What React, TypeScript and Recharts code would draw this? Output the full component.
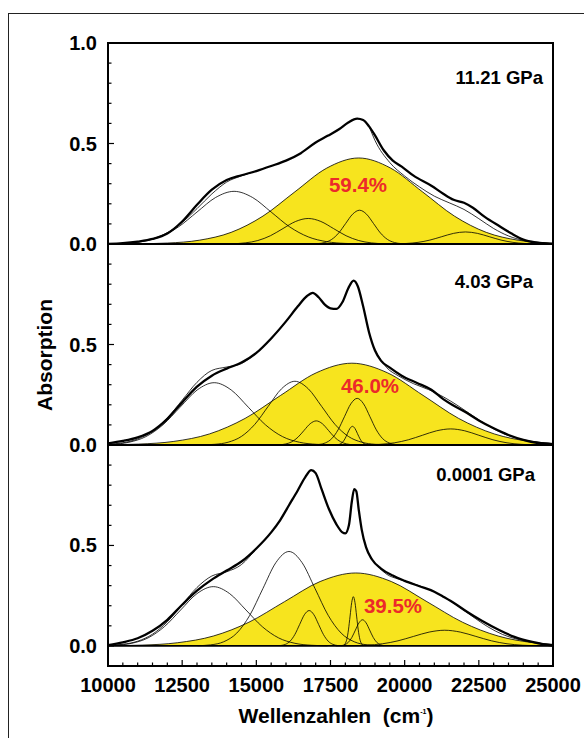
import { ComposedChart, Line, Area, XAxis, YAxis, ReferenceLine } from 'recharts';

const FONT = "'Liberation Sans', Arial, Helvetica, sans-serif";
const YELLOW = '#F7E41E';
const RED = '#EC2A2A';

// x axis (wavenumber, cm-1)
const X_TICKS = [
  10000, 10500, 11000, 11500, 12000, 12500, 13000, 13500, 14000, 14500, 15000,
  15500, 16000, 16500, 17000, 17500, 18000, 18500, 19000, 19500, 20000, 20500,
  21000, 21500, 22000, 22500, 23000, 23500, 24000, 24500, 25000,
];
const X_LABELS = [10000, 12500, 15000, 17500, 20000, 22500, 25000];
const Y_TICKS_TOP = [0, 0.1, 0.2, 0.3, 0.4, 0.5, 0.6, 0.7, 0.8, 0.9, 1.0];
const Y_TICKS = [0, 0.1, 0.2, 0.3, 0.4, 0.5, 0.6, 0.7, 0.8, 0.9];
const Y_LABELS_TOP = [0, 0.5, 1.0];
const Y_LABELS = [0, 0.5];

// ---- 11.21 GPa ----
const mainA = [
  [10000, 0.0], [10500, 0.004], [11000, 0.012], [11500, 0.025], [12000, 0.052], [12500, 0.112],
  [13000, 0.195], [13500, 0.27], [14000, 0.318], [14500, 0.342], [15000, 0.363], [15500, 0.388],
  [16000, 0.415], [16500, 0.452], [17000, 0.505], [17400, 0.538], [17800, 0.572], [18100, 0.605],
  [18400, 0.624], [18600, 0.617], [18800, 0.585], [19000, 0.54], [19300, 0.465], [19600, 0.415],
  [19900, 0.385], [20300, 0.34], [20900, 0.29], [21300, 0.25], [21650, 0.22], [22000, 0.205],
  [22300, 0.18], [22700, 0.135], [23200, 0.088], [23600, 0.052], [24000, 0.022], [24400, 0.008],
  [24800, 0.002], [25000, 0.0],
];
// thin fit curve, visible beside the data on the flanks
const fitA = [
  [10000, 0.001], [10500, 0.0034], [11000, 0.01], [11500, 0.0256], [12000, 0.0567], [12500, 0.1076],
  [13000, 0.176], [13500, 0.249], [14000, 0.308], [14500, 0.339], [15000, 0.363],
];
const fitA2 = [
  [18800, 0.585], [19000, 0.515], [19500, 0.405], [20000, 0.338], [20500, 0.284], [21000, 0.238],
  [21500, 0.205], [22000, 0.172], [22500, 0.126], [23000, 0.077], [23500, 0.04], [24000, 0.018],
  [24500, 0.008], [25000, 0.003],
];
const bandA = [
  [10000, 0.0002], [10925, 0.0009], [12000, 0.0048], [13075, 0.0188], [14150, 0.0579], [15225, 0.139],
  [16300, 0.2596], [17375, 0.3777], [18450, 0.428], [19525, 0.3777], [20600, 0.2596], [21675, 0.139],
  [22750, 0.0579], [23825, 0.0188], [24900, 0.0048], [25000, 0.004],
];
const compA1 = [
  [10000, 0.0008], [10500, 0.0029], [11125, 0.0115], [11750, 0.0354], [12375, 0.0851], [13000, 0.1589],
  [13625, 0.2312], [14250, 0.262], [14875, 0.2312], [15500, 0.1589], [16125, 0.0851], [16750, 0.0354],
  [17375, 0.0115], [18000, 0.0029], [18625, 0.0006],
];
const compA2 = [
  [13775, 0.0003], [14200, 0.0014], [14625, 0.0056], [15050, 0.0172], [15475, 0.0412], [15900, 0.077],
  [16325, 0.1121], [16750, 0.127], [17175, 0.1121], [17600, 0.077], [18025, 0.0412], [18450, 0.0172],
  [18875, 0.0056], [19300, 0.0014], [19725, 0.0003],
];
const compA3 = [
  [16835, 0.0004], [17070, 0.0019], [17305, 0.0074], [17540, 0.0227], [17775, 0.0545], [18010, 0.1019],
  [18245, 0.1483], [18480, 0.168], [18715, 0.1483], [18950, 0.1019], [19185, 0.0545], [19420, 0.0227],
  [19655, 0.0074], [19890, 0.0019], [20125, 0.0004],
];
const compA4 = [
  [19250, 0.0001], [19650, 0.0007], [20050, 0.0026], [20450, 0.0081], [20850, 0.0195], [21250, 0.0364],
  [21650, 0.053], [22050, 0.06], [22450, 0.053], [22850, 0.0364], [23250, 0.0195], [23650, 0.0081],
  [24050, 0.0026], [24450, 0.0007], [24850, 0.0001],
];

// ---- 4.03 GPa ----
const mainB = [
  [10000, 0.008], [10500, 0.02], [11000, 0.038], [11500, 0.07], [12000, 0.13], [12500, 0.212],
  [13000, 0.29], [13500, 0.345], [14000, 0.38], [14500, 0.41], [15000, 0.458], [15500, 0.53],
  [16000, 0.615], [16400, 0.69], [16700, 0.74], [16900, 0.757], [17100, 0.735], [17300, 0.7],
  [17500, 0.68], [17700, 0.677], [17900, 0.71], [18100, 0.78], [18280, 0.818], [18420, 0.79],
  [18600, 0.69], [18800, 0.56], [19000, 0.47], [19200, 0.42], [19500, 0.385], [19900, 0.345],
  [20400, 0.31], [20900, 0.275], [21300, 0.228], [21600, 0.2], [22000, 0.168], [22500, 0.122],
  [23000, 0.083], [23500, 0.05], [24000, 0.026], [24500, 0.01], [25000, 0.003],
];
const fitB = [
  [10000, 0.004], [10500, 0.011], [11000, 0.03], [11500, 0.068], [12000, 0.135], [12500, 0.223],
  [13000, 0.312], [13500, 0.371], [14000, 0.388], [14500, 0.405], [15000, 0.458],
];
const fitB2 = [
  [19000, 0.47], [19400, 0.384], [19800, 0.343], [20300, 0.305], [20800, 0.276], [21300, 0.24],
  [21800, 0.195], [22300, 0.145], [22800, 0.097], [23300, 0.058], [23800, 0.0325], [24300, 0.018],
  [25000, 0.0075],
];
const bandB = [
  [10000, 0.0012], [11020, 0.0045], [12220, 0.0179], [13420, 0.0551], [14620, 0.1322], [15820, 0.2469],
  [17020, 0.3592], [18220, 0.407], [19420, 0.3592], [20620, 0.2469], [21820, 0.1322], [23020, 0.0551],
  [24220, 0.0179], [25000, 0.0075],
];
const compB1 = [
  [10000, 0.0025], [10130, 0.0034], [10705, 0.0136], [11280, 0.0419], [11855, 0.1007], [12430, 0.188],
  [13005, 0.2736], [13580, 0.31], [14155, 0.2736], [14730, 0.188], [15305, 0.1007], [15880, 0.0419],
  [16455, 0.0136], [17030, 0.0034], [17605, 0.0007],
];
const compB2 = [
  [13150, 0.0007], [13600, 0.0035], [14050, 0.0139], [14500, 0.0429], [14950, 0.1029], [15400, 0.1923],
  [15850, 0.2798], [16300, 0.317], [16750, 0.2798], [17200, 0.1923], [17650, 0.1029], [18100, 0.0429],
  [18550, 0.0139], [19000, 0.0035], [19450, 0.0007],
];
const compB3 = [
  [15790, 0.0013], [15995, 0.0053], [16200, 0.0162], [16405, 0.039], [16610, 0.0728], [16815, 0.1059],
  [17020, 0.12], [17225, 0.1059], [17430, 0.0728], [17635, 0.039], [17840, 0.0162], [18045, 0.0053],
  [18250, 0.0013],
];
const compB4 = [
  [17110, 0.0026], [17325, 0.0102], [17540, 0.0314], [17755, 0.0753], [17970, 0.1407], [18185, 0.2047],
  [18400, 0.232], [18615, 0.2047], [18830, 0.1407], [19045, 0.0753], [19260, 0.0314], [19475, 0.0102],
  [19690, 0.0026], [19905, 0.0005],
];
const compB5 = [
  [17730, 0.001], [17815, 0.0041], [17900, 0.0126], [17985, 0.0302], [18070, 0.0564], [18155, 0.0821],
  [18240, 0.093], [18325, 0.0821], [18410, 0.0564], [18495, 0.0302], [18580, 0.0126], [18665, 0.0041],
  [18750, 0.001],
];
const compB6 = [
  [18225, 0.0002], [18700, 0.0009], [19175, 0.0035], [19650, 0.0108], [20125, 0.026], [20600, 0.0485],
  [21075, 0.0706], [21550, 0.08], [22025, 0.0706], [22500, 0.0485], [22975, 0.026], [23450, 0.0108],
  [23925, 0.0035], [24400, 0.0009], [24875, 0.0002],
];

// ---- 0.0001 GPa ----
const mainC = [
  [10000, 0.004], [10500, 0.018], [11000, 0.038], [11500, 0.075], [12000, 0.13], [12500, 0.205],
  [13000, 0.275], [13500, 0.33], [14000, 0.375], [14500, 0.42], [15000, 0.485], [15500, 0.565],
  [15800, 0.625], [16100, 0.7], [16400, 0.775], [16650, 0.84], [16850, 0.875], [17000, 0.86],
  [17200, 0.78], [17450, 0.68], [17700, 0.605], [17900, 0.565], [18000, 0.56], [18120, 0.6],
  [18220, 0.72], [18300, 0.78], [18370, 0.77], [18450, 0.68], [18550, 0.58], [18700, 0.49],
  [18900, 0.43], [19200, 0.385], [19600, 0.35], [20000, 0.324], [20500, 0.297], [21000, 0.27],
  [21300, 0.245], [21700, 0.21], [22100, 0.17], [22600, 0.125], [23200, 0.078], [23700, 0.045],
  [24300, 0.02], [24700, 0.008], [25000, 0.002],
];
const fitC = [
  [10000, 0.0025], [10500, 0.008], [11000, 0.0234], [11500, 0.0584], [12000, 0.12], [12500, 0.206],
  [13000, 0.291], [13500, 0.348], [14000, 0.369], [14500, 0.405], [15000, 0.485],
];
const fitC2 = [
  [18900, 0.43], [19400, 0.356], [19800, 0.332], [20300, 0.309], [20800, 0.282], [21300, 0.246],
  [21800, 0.198], [22300, 0.145], [22800, 0.0955], [23300, 0.057], [23800, 0.033], [24300, 0.018],
  [25000, 0.006],
];
const bandC = [
  [10000, 0.0009], [11150, 0.004], [12350, 0.0159], [13550, 0.0491], [14750, 0.1179], [15950, 0.2202],
  [17150, 0.3204], [18350, 0.363], [19550, 0.3204], [20750, 0.2202], [21950, 0.1179], [23150, 0.0491],
  [24350, 0.0159], [25000, 0.0078],
];
const compC1 = [
  [10000, 0.0016], [10250, 0.0033], [10800, 0.013], [11350, 0.0399], [11900, 0.0958], [12450, 0.1789],
  [13000, 0.2603], [13550, 0.295], [14100, 0.2603], [14650, 0.1789], [15200, 0.0958], [15750, 0.0399],
  [16300, 0.013], [16850, 0.0033], [17400, 0.0006],
];
const compC2 = [
  [13020, 0.001], [13460, 0.0052], [13900, 0.0206], [14340, 0.0636], [14780, 0.1526], [15220, 0.2851],
  [15660, 0.4148], [16100, 0.47], [16540, 0.4148], [16980, 0.2851], [17420, 0.1526], [17860, 0.0636],
  [18300, 0.0206], [18740, 0.0052], [19180, 0.001],
];
const compC3 = [
  [15820, 0.0019], [15980, 0.0077], [16140, 0.0238], [16300, 0.0571], [16460, 0.1067], [16620, 0.1553],
  [16780, 0.176], [16940, 0.1553], [17100, 0.1067], [17260, 0.0571], [17420, 0.0238], [17580, 0.0077],
  [17740, 0.0019],
];
const compC4 = [
  [17940, 0.0027], [17995, 0.0108], [18050, 0.0331], [18105, 0.0796], [18160, 0.1486], [18215, 0.2162],
  [18270, 0.245], [18325, 0.2162], [18380, 0.1486], [18435, 0.0796], [18490, 0.0331], [18545, 0.0108],
  [18600, 0.0027],
];
const compC5 = [
  [17860, 0.0014], [17980, 0.0057], [18100, 0.0176], [18220, 0.0422], [18340, 0.0788], [18460, 0.1147],
  [18580, 0.13], [18700, 0.1147], [18820, 0.0788], [18940, 0.0422], [19060, 0.0176], [19180, 0.0057],
  [19300, 0.0014],
];
const compC6 = [
  [17675, 0.0002], [18200, 0.0009], [18725, 0.0034], [19250, 0.0106], [19775, 0.0253], [20300, 0.0473],
  [20825, 0.0688], [21350, 0.078], [21875, 0.0688], [22400, 0.0473], [22925, 0.0253], [23450, 0.0106],
  [23975, 0.0034], [24500, 0.0009], [25000, 0.0002],
];

const toRows = (pts: number[][]) => pts.map(([x, y]) => ({ x, y }));

const panels = [
  {
    top: 0, height: 254, mTop: 43, mBottom: 10, domain: [0, 1], yTicks: Y_TICKS_TOP, yLabels: Y_LABELS_TOP,
    showX: false, main: mainA, band: bandA, comps: [compA1, compA2, compA3, compA4, fitA, fitA2],
  },
  {
    top: 234, height: 221, mTop: 10, mBottom: 10, domain: [0, 1], yTicks: Y_TICKS, yLabels: Y_LABELS,
    showX: false, main: mainB, band: bandB, comps: [compB1, compB2, compB3, compB4, compB5, compB6, fitB, fitB2],
  },
  {
    top: 435, height: 303, mTop: 10, mBottom: 42, domain: [-0.1, 1], yTicks: Y_TICKS, yLabels: Y_LABELS,
    showX: true, main: mainC, band: bandC, comps: [compC1, compC2, compC3, compC4, compC5, compC6, fitC, fitC2],
  },
];

// ticks point inwards, so they are drawn by hand
function YTick(props: any) {
  const { x, y, payload, labels } = props;
  const v = payload.value;
  const major = Math.abs(v * 2 - Math.round(v * 2)) < 1e-6;
  return (
    <g>
      <line x1={x} x2={x + (major ? 6 : 3.5)} y1={y} y2={y} stroke="#000" strokeWidth={1.2} />
      {labels.some((l: number) => Math.abs(l - v) < 1e-6) && (
        <text x={x - 11} y={y + 7} textAnchor="end" fontFamily={FONT} fontWeight="bold" fontSize={20} fill="#000">
          {v.toFixed(1)}
        </text>
      )}
    </g>
  );
}

function XTick(props: any) {
  const { x, y, payload } = props;
  const v = payload.value;
  const major = X_LABELS.includes(v);
  return (
    <g>
      <line x1={x} x2={x} y1={y} y2={y - (major ? 6 : 3.5)} stroke="#000" strokeWidth={1.2} />
      {major && (
        <text x={x} y={y + 26} textAnchor="middle" fontFamily={FONT} fontWeight="bold" fontSize={20} fill="#000">
          {v}
        </text>
      )}
    </g>
  );
}

function Panel({ p }: { p: any }) {
  return (
    <div style={{ position: 'absolute', left: 0, top: p.top }}>
      <ComposedChart width={584} height={p.height} margin={{ top: p.mTop, right: 31, bottom: p.mBottom, left: 48 }}>
        <XAxis
          type="number"
          dataKey="x"
          domain={[10000, 25000]}
          allowDataOverflow
          ticks={X_TICKS}
          interval={0}
          hide={!p.showX}
          height={30}
          axisLine={false}
          tickLine={false}
          tickSize={0}
          tickMargin={0}
          tick={XTick}
        />
        <YAxis
          type="number"
          domain={p.domain}
          allowDataOverflow
          ticks={p.yTicks}
          interval={0}
          width={60}
          axisLine={false}
          tickLine={false}
          tickSize={0}
          tickMargin={0}
          tick={(t: any) => <YTick {...t} labels={p.yLabels} />}
        />
        <Area
          data={toRows(p.band)}
          dataKey="y"
          type="monotone"
          fill={YELLOW}
          fillOpacity={1}
          stroke="#000"
          strokeWidth={0.8}
          baseValue={0}
          dot={false}
          activeDot={false}
          isAnimationActive={false}
        />
        {p.comps.map((c: number[][], i: number) => (
          <Line
            key={i}
            data={toRows(c)}
            dataKey="y"
            type="monotone"
            stroke="#000"
            strokeWidth={0.8}
            dot={false}
            activeDot={false}
            isAnimationActive={false}
          />
        ))}
        <Line
          data={toRows(p.main)}
          dataKey="y"
          type="monotone"
          stroke="#000"
          strokeWidth={2.3}
          dot={false}
          activeDot={false}
          isAnimationActive={false}
        />
        <ReferenceLine y={0} stroke="#000" strokeWidth={p.showX ? 1.6 : 2} />
      </ComposedChart>
    </div>
  );
}

export default function App() {
  return (
    <div style={{ position: 'absolute', left: 0, top: 0, width: 584, height: 738, overflow: 'hidden', background: '#fff' }}>
      <div style={{ position: 'absolute', left: 8, top: 13, width: 700, height: 800, border: '1px solid #222' }} />
      {panels.map((p, i) => (
        <Panel key={i} p={p} />
      ))}
      <div
        style={{
          position: 'absolute', left: 107, top: 42, width: 447, height: 625,
          border: '2px solid #000', boxSizing: 'border-box', pointerEvents: 'none',
        }}
      />
      <svg width={584} height={738} style={{ position: 'absolute', left: 0, top: 0, pointerEvents: 'none' }}>
        <g fontFamily={FONT} fontWeight="bold">
          <text x={543} y={84} textAnchor="end" fontSize={18.5}>11.21 GPa</text>
          <text x={533} y={288} textAnchor="end" fontSize={18.5}>4.03 GPa</text>
          <text x={535} y={481} textAnchor="end" fontSize={18.5}>0.0001 GPa</text>
          <text x={358} y={192} textAnchor="middle" fontSize={20.5} fill={RED}>59.4%</text>
          <text x={370} y={393} textAnchor="middle" fontSize={20.5} fill={RED}>46.0%</text>
          <text x={393} y={613} textAnchor="middle" fontSize={20.5} fill={RED}>39.5%</text>
          <text x={336} y={723} textAnchor="middle" fontSize={21}>
            {'Wellenzahlen\u00a0\u00a0(cm'}
            <tspan fontSize={7} dy={-9}>-1</tspan>
            <tspan dy={9}>)</tspan>
          </text>
          <text transform="translate(45,355) rotate(-90)" x={0} y={7} textAnchor="middle" fontSize={21}>
            Absorption
          </text>
        </g>
      </svg>
    </div>
  );
}
